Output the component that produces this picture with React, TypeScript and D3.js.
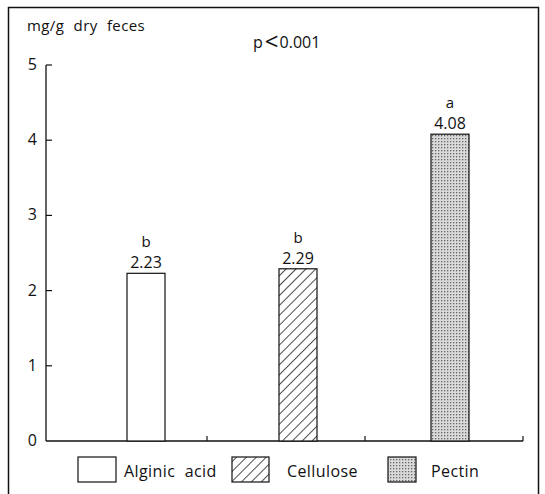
import React from "react";
import * as d3 from "d3";

const categories = ["Alginic acid", "Cellulose", "Pectin"];
const values = [2.23, 2.29, 4.08];
const letters = ["b", "b", "a"];
const yTicks = [0, 1, 2, 3, 4, 5];

const W = 545;
const H = 494;

export default function App() {
  const y = d3.scaleLinear().domain([0, 5]).range([441, 65]);
  const x = d3.scalePoint<string>().domain(categories).range([146, 450]);
  const band = d3.scaleBand<string>().domain(categories).range([49, 523]);
  const bw = 38;
  const fills = ["#ffffff", "url(#hatch)", "url(#dots)"];
  const font = "'Open Sans', 'DejaVu Sans', sans-serif";
  const legendX = [78, 232, 388];
  const legendW = [38, 37, 28];
  const legendTextX = [124, 287, 431];

  return (
    <svg
      width={W}
      height={H}
      style={{ position: "absolute", left: 0, top: 0 }}
      fontFamily={font}
    >
      <defs>
        <pattern id="hatch" width="7" height="7" patternUnits="userSpaceOnUse" patternTransform="rotate(45)">
          <rect width="7" height="7" fill="#fff" />
          <line x1="0" y1="0" x2="0" y2="7" stroke="#111" strokeWidth="1.5" />
        </pattern>
        <pattern id="dots" width="3" height="3" patternUnits="userSpaceOnUse">
          <rect width="3" height="3" fill="#dadada" />
          <rect x="0" y="0" width="1.3" height="1.3" fill="#666" />
        </pattern>
      </defs>
      <rect x={0} y={0} width={W} height={H} fill="#fff" />
      <rect x={8.5} y={7.5} width={530} height={500} fill="none" stroke="#111" strokeWidth={1.5} />

      <text x={27} y={31} fontSize={15} letterSpacing={0.4} wordSpacing={5} fill="#111">mg/g dry feces</text>
      <text x={253} y={48} fontSize={16} fill="#111">
        p<tspan fontSize={24} dx={2} dy={2}>&lt;</tspan><tspan dx={1} dy={-2}>0.001</tspan>
      </text>

      {/* y axis */}
      <line x1={46} y1={y(0)} x2={46} y2={y(5)} stroke="#111" strokeWidth={1.3} />
      {yTicks.map((t) => (
        <g key={t}>
          {t > 0 && <line x1={46} x2={52} y1={y(t)} y2={y(t)} stroke="#111" strokeWidth={1.2} />}
          <text x={37} y={y(t) + 5} fontSize={16} textAnchor="end" fill="#111">{t}</text>
        </g>
      ))}
      {/* x axis */}
      <line x1={46} y1={y(0)} x2={523} y2={y(0)} stroke="#111" strokeWidth={1.3} />
      {categories.map((c) => {
        const bx = (band(c) as number) + band.bandwidth();
        return <line key={c} x1={bx} x2={bx} y1={y(0)} y2={y(0) - 5} stroke="#111" strokeWidth={1.2} />;
      })}

      {/* bars */}
      {categories.map((c, i) => {
        const cx = x(c) as number;
        return (
          <g key={c}>
            <rect
              x={cx - bw / 2}
              y={y(values[i])}
              width={bw}
              height={y(0) - y(values[i])}
              fill={fills[i]}
              stroke="#111"
              strokeWidth={1.2}
            />
            <text x={cx} y={y(values[i]) - 5} fontSize={16} textAnchor="middle" fill="#111">
              {values[i].toFixed(2)}
            </text>
            <text x={cx} y={y(values[i]) - 26} fontSize={15} textAnchor="middle" fill="#111">
              {letters[i]}
            </text>
          </g>
        );
      })}

      {/* legend */}
      {categories.map((c, i) => (
        <g key={"lg" + c}>
          <rect x={legendX[i]} y={457} width={legendW[i]} height={25} fill={fills[i]} stroke="#111" strokeWidth={1.2} />
          <text x={legendTextX[i]} y={477} fontSize={16} letterSpacing={0.4} wordSpacing={5} fill="#111">{c}</text>
        </g>
      ))}
    </svg>
  );
}
